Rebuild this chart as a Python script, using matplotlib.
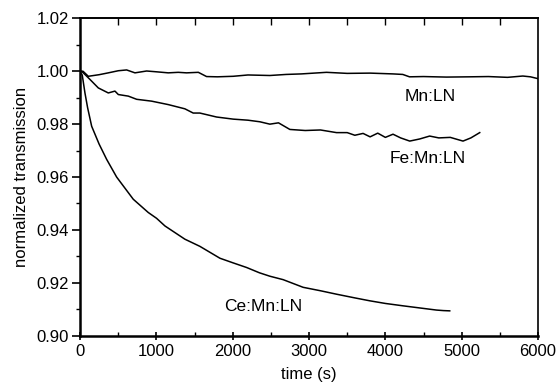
import matplotlib.pyplot as plt
from matplotlib.ticker import MultipleLocator

plt.rcParams['font.family'] = ['Liberation Sans', 'DejaVu Sans']

# Mn:LN
t_mn = [0, 40, 109, 250, 371, 502, 611, 720, 873, 1000, 1156, 1287, 1396, 1550, 1658, 1800, 2007, 2200,
        2487, 2700, 2900, 3229, 3500, 3800, 4100, 4228, 4316, 4500, 4800, 5105, 5350, 5600, 5800, 5900, 6000]
v_mn = [1.0, 1.0, 0.9981, 0.9987, 0.9994, 1.0002, 1.0005, 0.9994, 1.0001, 0.9998, 0.9994, 0.9996,
        0.9994, 0.9996, 0.9980, 0.9979, 0.9981, 0.9986, 0.9984, 0.9988, 0.9990, 0.9996, 0.9992, 0.9993,
        0.9990, 0.9988, 0.9979, 0.9980, 0.9978, 0.9979, 0.9980, 0.9977, 0.9982, 0.9979, 0.9972]

# Fe:Mn:LN
t_fe = [0, 22, 131, 240, 371, 458, 502, 633, 742, 938, 1156, 1374, 1483, 1570, 1658, 1789, 2007,
        2200, 2356, 2487, 2600, 2749, 2950, 3150, 3360, 3500, 3600, 3708, 3800, 3900, 4000, 4100, 4200,
        4319, 4450, 4580, 4700, 4850, 5017, 5120, 5236]
v_fe = [1.0, 1.0, 0.9969, 0.9937, 0.9918, 0.9925, 0.9912, 0.9906, 0.9894, 0.9887, 0.9874, 0.9858,
        0.9842, 0.9842, 0.9836, 0.9827, 0.9819, 0.9815, 0.9809, 0.9800, 0.9805, 0.9780, 0.9776, 0.9778,
        0.9768, 0.9768, 0.9758, 0.9765, 0.9752, 0.9766, 0.9750, 0.9762, 0.9748, 0.9736, 0.9744, 0.9755,
        0.9748, 0.9750, 0.9736, 0.9748, 0.9768]

# Ce:Mn:LN
t_ce = [0, 30, 65, 100, 153, 250, 349, 480, 633, 698, 894, 1003, 1113, 1374, 1570, 1833, 2000, 2182,
        2350, 2487, 2661, 2923, 3150, 3360, 3600, 3796, 4000, 4232, 4450, 4669, 4760, 4843]
v_ce = [1.0, 0.9985, 0.9918, 0.9862, 0.9792, 0.9725, 0.9667, 0.9600, 0.9541, 0.9516, 0.9466, 0.9444,
        0.9415, 0.9365, 0.9338, 0.9293, 0.9276, 0.9258, 0.9238, 0.9225, 0.9212, 0.9183, 0.9170, 0.9157,
        0.9143, 0.9132, 0.9122, 0.9113, 0.9105, 0.9097, 0.9095, 0.9094]

fig = plt.figure(figsize=(5.57, 3.91), dpi=100)
ax = fig.add_axes([0.1436, 0.1414, 0.8224, 0.8116])

for t, v in [(t_mn, v_mn), (t_fe, v_fe), (t_ce, v_ce)]:
    ax.plot(t, v, color='black', lw=1.1)

ax.text(4590, 0.9906, 'Mn:LN', ha='center', va='center', fontsize=12.5)
ax.text(4560, 0.9670, 'Fe:Mn:LN', ha='center', va='center', fontsize=12.5)
ax.text(2400, 0.9110, 'Ce:Mn:LN', ha='center', va='center', fontsize=12.5)

ax.set_xlim(0, 6000)
ax.set_ylim(0.90, 1.02)
ax.xaxis.set_major_locator(MultipleLocator(1000))
ax.xaxis.set_minor_locator(MultipleLocator(500))
ax.yaxis.set_major_locator(MultipleLocator(0.02))
ax.yaxis.set_minor_locator(MultipleLocator(0.01))
ax.yaxis.set_major_formatter(plt.FormatStrFormatter('%.2f'))

ax.tick_params(axis='x', which='major', direction='inout', length=6, width=1.2, labelsize=12, pad=3)
ax.tick_params(axis='x', which='minor', direction='in', length=3, width=1)
ax.tick_params(axis='y', which='major', direction='out', length=6, width=1.2, labelsize=12, pad=2)
ax.tick_params(axis='y', which='minor', direction='out', length=3, width=1)

top = ax.secondary_xaxis('top')
top.set_xticks([500 * i for i in range(1, 12)])
top.tick_params(direction='in', length=5, width=1, labeltop=False)
top.spines['top'].set_linewidth(1.2)

for s in ax.spines.values():
    s.set_linewidth(1.2)
ax.spines['left'].set_linewidth(1.8)
ax.spines['bottom'].set_linewidth(1.8)

ax.set_xlabel('time (s)', fontsize=12, labelpad=6)
ax.set_ylabel('normalized transmission', fontsize=12, labelpad=5)

fig.savefig('out.png', dpi=100)
